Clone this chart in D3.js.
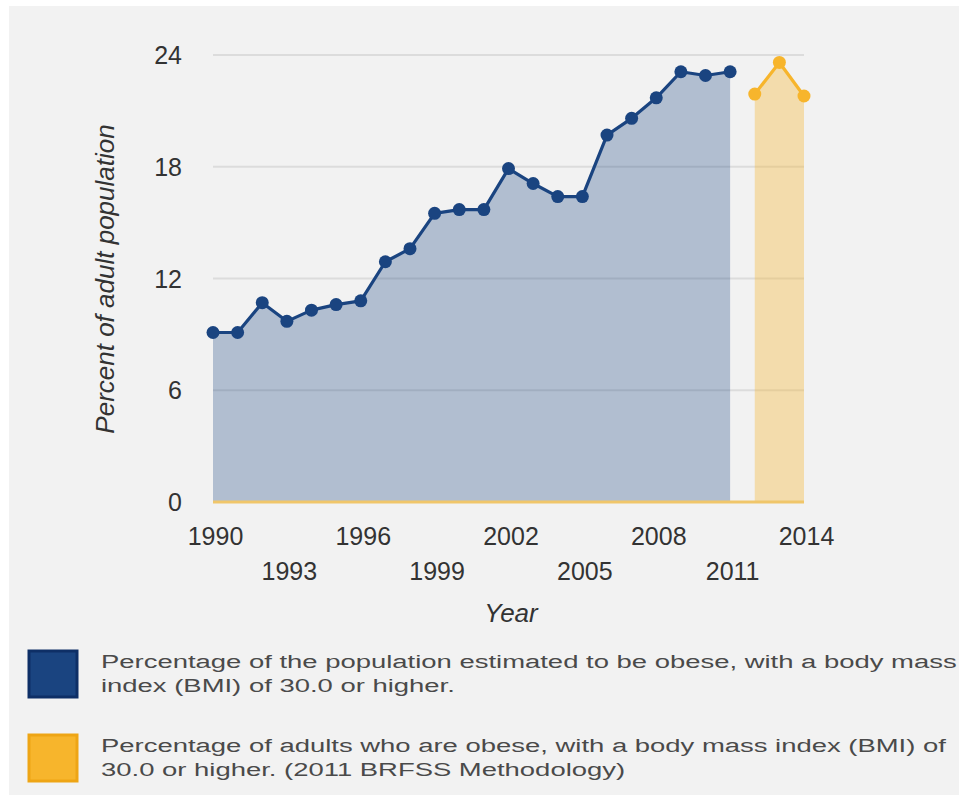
<!DOCTYPE html>
<html>
<head>
<meta charset="utf-8">
<script src="https://cdn.jsdelivr.net/npm/d3@7"></script>
<style>
  body { margin: 0; background: #ffffff; }
  svg { display: block; }
  .tick-label { font-family: "Liberation Sans", Arial, sans-serif; font-size: 25px; fill: #333333; }
  .axis-title { font-family: "Liberation Sans", Arial, sans-serif; font-size: 26px; font-style: italic; fill: #333333; }
  .legend-text { font-family: "Liberation Sans", Arial, sans-serif; font-size: 19px; fill: #4a4a4a; }
</style>
</head>
<body>
<div id="container-svg"></div>
<script>
// Data
var years = [1990, 1991, 1992, 1993, 1994, 1995, 1996, 1997, 1998, 1999, 2000,
             2001, 2002, 2003, 2004, 2005, 2006, 2007, 2008, 2009, 2010, 2011]
var obeseOld = [9.1, 9.1, 10.7, 9.7, 10.3, 10.6, 10.8, 12.9, 13.6, 15.5, 15.7,
                15.7, 17.9, 17.1, 16.4, 16.4, 19.7, 20.6, 21.7, 23.1, 22.9, 23.1]
var yearsNew = [2012, 2013, 2014]
var obeseNew = [21.9, 23.6, 21.8]

var xTicks = [1990, 1993, 1996, 1999, 2002, 2005, 2008, 2011, 2014]
var yTicks = [0, 6, 12, 18, 24]

var legendLabels = [
    ["Percentage of the population estimated to be obese, with a body mass",
     "index (BMI) of 30.0 or higher."],
    ["Percentage of adults who are obese, with a body mass index (BMI) of",
     "30.0 or higher. (2011 BRFSS Methodology)"]
]

const BLUE = "#1a4480"
const YELLOW = "#f7b52c"
const width = 959
const height = 795

const svg = d3.select("div#container-svg")
    .append("svg")
    .attr("width", width)
    .attr("height", height)

// Panel background
svg.append("rect")
    .attr("x", 9).attr("y", 6)
    .attr("width", width - 9).attr("height", height - 6)
    .attr("fill", "#f2f2f2")

var x = d3.scaleLinear().domain([1990, 2014]).range([213, 804])
var y = d3.scaleLinear().domain([0, 24]).range([502, 55])

// Grid lines
svg.append("g").selectAll("line")
    .data(yTicks.filter(d => d > 0))
    .join("line")
    .attr("x1", x(1990)).attr("x2", x(2014))
    .attr("y1", d => y(d)).attr("y2", d => y(d))
    .attr("stroke", "#dcdcdc")
    .attr("stroke-width", 2)

// Y tick labels
svg.append("g").selectAll("text")
    .data(yTicks)
    .join("text")
    .attr("class", "tick-label")
    .attr("x", 182)
    .attr("y", d => y(d))
    .attr("dy", "0.36em")
    .attr("text-anchor", "end")
    .text(d => d)

// Areas
var oldSeries = years.map((d, i) => [d, obeseOld[i]])
var newSeries = yearsNew.map((d, i) => [d, obeseNew[i]])

var area = d3.area()
    .x(d => x(d[0]))
    .y0(y(0))
    .y1(d => y(d[1]))

svg.append("path")
    .attr("d", area(oldSeries))
    .attr("fill", BLUE)
    .attr("fill-opacity", 0.3)

svg.append("path")
    .attr("d", area(newSeries))
    .attr("fill", YELLOW)
    .attr("fill-opacity", 0.35)

// Zero baseline
svg.append("line")
    .attr("x1", x(1990)).attr("x2", x(2014))
    .attr("y1", y(0)).attr("y2", y(0))
    .attr("stroke", "#f0c66a")
    .attr("stroke-width", 3)

// Lines and markers
var line = d3.line()
    .x(d => x(d[0]))
    .y(d => y(d[1]))

svg.append("path")
    .attr("d", line(oldSeries))
    .attr("fill", "none")
    .attr("stroke", BLUE)
    .attr("stroke-width", 3.2)
    .attr("stroke-linejoin", "round")

svg.append("g").selectAll("circle")
    .data(oldSeries)
    .join("circle")
    .attr("cx", d => x(d[0]))
    .attr("cy", d => y(d[1]))
    .attr("r", 6.5)
    .attr("fill", BLUE)

svg.append("path")
    .attr("d", line(newSeries))
    .attr("fill", "none")
    .attr("stroke", YELLOW)
    .attr("stroke-width", 3.2)
    .attr("stroke-linejoin", "round")

svg.append("g").selectAll("circle")
    .data(newSeries)
    .join("circle")
    .attr("cx", d => x(d[0]))
    .attr("cy", d => y(d[1]))
    .attr("r", 6.5)
    .attr("fill", YELLOW)

// X axis, labels staggered over two rows
var xAxis = svg.append("g")
    .attr("transform", "translate(0," + 520 + ")")
    .call(d3.axisBottom(x).tickValues(xTicks).tickSize(0).tickFormat(d3.format("d")))
xAxis.select(".domain").remove()
xAxis.selectAll("text")
    .attr("class", "tick-label")
    .attr("fill", null)
    .attr("y", (d, i) => i % 2 === 0 ? 0 : 35)
    .attr("dy", "0.99em")
    .attr("x", 2)

// Axis titles
svg.append("text")
    .attr("class", "axis-title")
    .attr("text-anchor", "middle")
    .attr("x", 511)
    .attr("y", 622)
    .text("Year")

svg.append("text")
    .attr("class", "axis-title")
    .attr("text-anchor", "middle")
    .attr("transform", "translate(114,279) rotate(-90)")
    .text("Percent of adult population")

// Legend
var legendColors = [[BLUE, "#0e2f66"], [YELLOW, "#eea515"]]
var legendTop = [649, 733]

var legend = svg.append("g")
legendLabels.forEach(function(lines, i) {
    var g = legend.append("g").attr("transform", "translate(0," + legendTop[i] + ")")
    g.append("rect")
        .attr("x", 29).attr("y", 2)
        .attr("width", 48).attr("height", 46)
        .attr("fill", legendColors[i][0])
        .attr("stroke", legendColors[i][1])
        .attr("stroke-width", 3)
    var t = g.append("g").attr("class", "legend-lines")
    lines.forEach(function(s, j) {
        t.append("text")
            .attr("class", "legend-text")
            .attr("x", 0)
            .attr("y", 19 + j * 24)
            .text(s)
    })
})

// Legend text in the picture is wide and short: stretch it horizontally
var firstWidth = legend.select("text.legend-text").node().getComputedTextLength()
var sx = 856 / firstWidth
legend.selectAll("g.legend-lines")
    .attr("transform", "translate(101,0) scale(" + sx + ",1)")
</script>
</body>
</html>
